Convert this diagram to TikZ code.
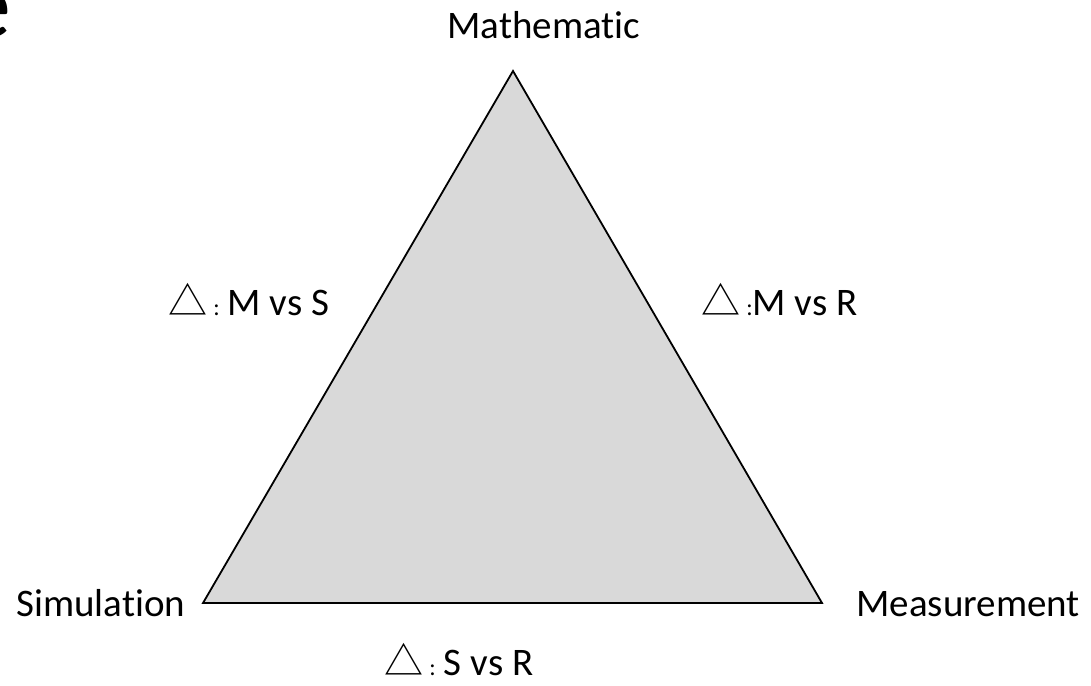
\documentclass[tikz,border=0pt]{standalone}
\usepackage{fontspec}
\setmainfont[Ligatures={NoCommon}]{Carlito}
\newfontfamily\cjkfont{Noto Sans CJK SC}
\usepackage{tikz}
\usetikzlibrary{positioning}
\definecolor{trifill}{HTML}{D9D9D9}
\definecolor{ink}{HTML}{000000}
\tikzset{
  tri_face/.style={draw=ink,fill=trifill,line width=0.9pt,line join=miter},
  corner_lbl/.style={anchor=base west,inner sep=0pt,font=\fontsize{19.5}{22}\selectfont\color{ink}},
  side_lbl/.style={anchor=base west,inner sep=0pt,font=\fontsize{19.5}{22}\selectfont\color{ink}},
  title_cut/.style={anchor=base east,inner sep=0pt,font=\fontsize{48}{48}\selectfont\color{ink}},
}
\newcommand{\tdelta}{{\cjkfont △}}
\newcommand{\tcolon}{{\fontsize{12}{12}\selectfont:}}

\begin{document}
\begin{tikzpicture}[x=0.5pt,y=-0.5pt]
    \useasboundingbox (0,0) rectangle (1091,685);
    % cut-off title letter
    \node[title_cut] (ttl) at (12,37) {e};

    \coordinate (math) at (513,71);
    \coordinate (sim) at (203,603);
    \coordinate (meas) at (822,603);
    \draw[tri_face] (math) -- (sim) -- (meas) -- cycle;

    \node[corner_lbl] (lm) at (447,39) {Mathematic};
    \node[corner_lbl] (ls) at (16,616) {Simulation};
    \node[corner_lbl] (lr) at (856,616) {Measurement};

    \node[side_lbl] (ms) at (168,315) {\tdelta\hspace{3pt}\tcolon\hspace{4pt}M vs S};
    \node[side_lbl] (mr) at (701,315) {\tdelta\hspace{3pt}\tcolon M vs R};
    \node[side_lbl] (sr) at (384,675) {\tdelta\hspace{3pt}\tcolon\hspace{4pt}S vs R};
  \end{tikzpicture}
\end{document}
